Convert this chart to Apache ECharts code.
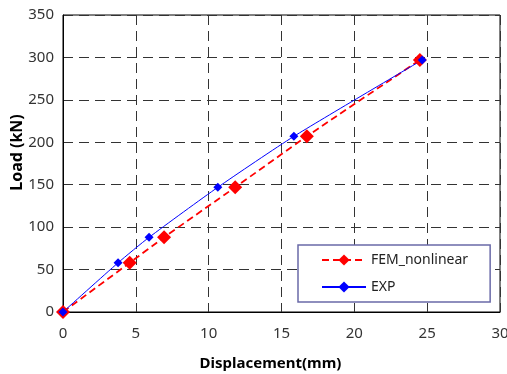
<!DOCTYPE html>
<html><head><meta charset="utf-8">
<script src="https://cdn.jsdelivr.net/npm/echarts@6/dist/echarts.min.js"></script>
<style>html,body{margin:0;padding:0;background:#fff}#c{width:507px;height:374px}</style>
</head><body><div id="c"></div>
<script>
const femX = [0, 4.58, 6.94, 11.82, 16.74, 24.5];
const femY = [0, 58, 88, 147, 207, 297];
const expX = [0, 3.78, 5.91, 10.63, 15.85, 24.66];
const expY = [0, 58, 88, 147, 207, 297];
const xTicks = [0, 5, 10, 15, 20, 25, 30];
const yTicks = [0, 50, 100, 150, 200, 250, 300, 350];

const chart = echarts.init(document.getElementById('c'));
const font = '"Noto Sans", sans-serif';
chart.setOption({
  animation: false,
  grid: {left: 63, right: 7, top: 15, bottom: 62, show: true, borderColor: '#000', borderWidth: 1, containLabel: false, outerBoundsMode: 'none'},
  legend: {
    orient: 'vertical', left: 298, top: 245,
    padding: [8, 22, 8, 23], itemWidth: 44, itemHeight: 14, itemGap: 13,
    borderColor: '#6a6aa8', borderWidth: 1.5, backgroundColor: '#fff',
    textStyle: {fontFamily: font, fontSize: 14, color: '#222'},
    data: ['FEM_nonlinear', 'EXP']
  },
  xAxis: {
    type: 'value', min: 0, max: 30, interval: 5,
    name: 'Displacement(mm)', nameLocation: 'middle', nameGap: 44, nameMoveOverlap: false,
    nameTextStyle: {fontFamily: font, fontSize: 15, fontWeight: 'bold', color: '#000', padding: [0, 22, 0, 0]},
    axisLine: {lineStyle: {color: '#000', width: 1}},
    axisTick: {show: false},
    axisLabel: {fontFamily: font, fontSize: 15, color: '#333', margin: 14},
    splitLine: {show: true, lineStyle: {color: '#333', type: [10, 6], width: 1}}
  },
  yAxis: {
    type: 'value', min: 0, max: 350, interval: 50,
    name: 'Load (kN)', nameLocation: 'middle', nameGap: 38, nameMoveOverlap: false,
    nameTextStyle: {fontFamily: font, fontSize: 16, fontWeight: 'bold', color: '#000', padding: [0, 0, 0, 22]},
    axisLine: {show: true, lineStyle: {color: '#000', width: 1}},
    axisTick: {show: false},
    axisLabel: {fontFamily: font, fontSize: 15, color: '#333', margin: 9},
    splitLine: {show: true, lineStyle: {color: '#333', type: [10, 6], width: 1}}
  },
  series: [
    {
      name: 'FEM_nonlinear', type: 'line', smooth: 0.2,
      data: femX.map((x, i) => [x, femY[i]]),
      symbol: 'diamond', symbolSize: 14,
      lineStyle: {color: '#ff0000', width: 1.8, type: [7, 4]},
      itemStyle: {color: '#ff0000'}
    },
    {
      name: 'EXP', type: 'line', smooth: 0.2,
      data: expX.map((x, i) => [x, expY[i]]),
      symbol: 'diamond', symbolSize: 9,
      lineStyle: {color: '#0000ff', width: 1},
      itemStyle: {color: '#0000ff'}
    }
  ]
});
</script></body></html>
